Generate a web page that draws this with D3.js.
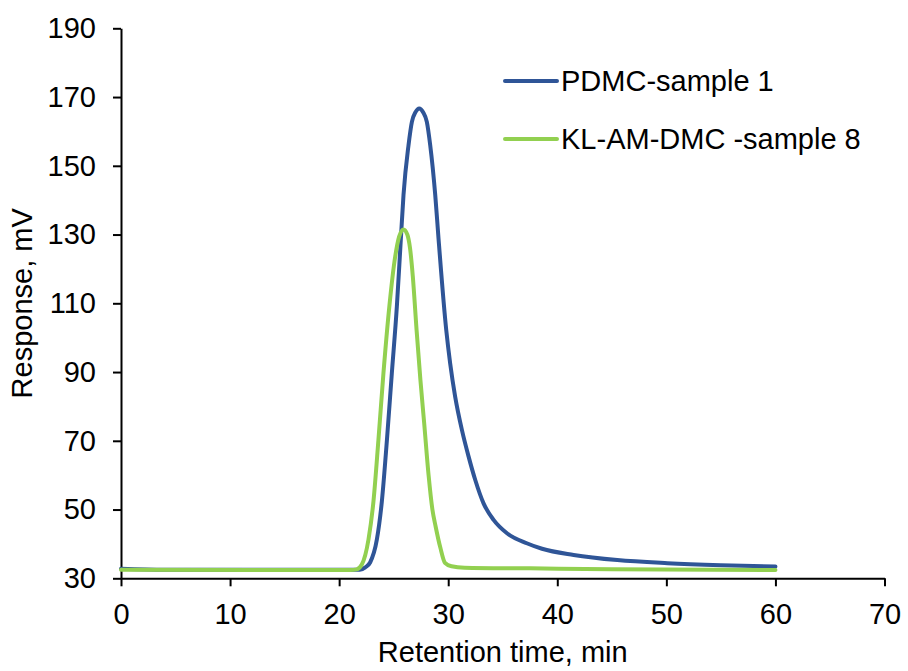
<!DOCTYPE html>
<html>
<head>
<meta charset="utf-8">
<script src="https://cdn.jsdelivr.net/npm/d3@7"></script>
<style>
  body { margin: 0; background: #fff; }
  svg text { font-family: "Liberation Sans", Arial, sans-serif; fill: #000; }
</style>
</head>
<body>
<svg id="chart" width="908" height="671"></svg>
<script>
// axis ticks
const xTicks = [0, 10, 20, 30, 40, 50, 60, 70];
const yTicks = [30, 50, 70, 90, 110, 130, 150, 170, 190];

// PDMC-sample 1
const pdmcTime = [0, 4, 21.5, 21.9, 22.4, 22.84, 23.46, 23.92, 24.38, 24.83, 25.29, 25.66, 25.9, 26.36, 26.67, 27.0, 27.34, 27.7, 28.04, 28.35, 28.81, 29.11, 29.82, 30.18, 30.64, 31.26, 31.87, 32.48, 33.24, 34.16, 35.39, 37.2, 38.6, 41.5, 45.5, 50.1, 55, 60];
const pdmcValue = [32.8, 32.5, 32.5, 32.5, 33.2, 34.6, 41.3, 52.5, 70.2, 89.6, 109, 128.9, 141.5, 156, 162.8, 165.6, 166.7, 165.6, 162.8, 156, 141.5, 128.9, 102.2, 92.5, 82.8, 73.1, 65.4, 58.6, 51.8, 47.0, 43.1, 40.2, 38.6, 36.8, 35.3, 34.4, 33.8, 33.4];

// KL-AM-DMC -sample 8
const klTime = [0, 21.0, 21.6, 22.08, 22.69, 23.15, 23.6, 24.06, 24.6, 25.14, 25.5, 25.9, 26.25, 26.5, 26.75, 27.1, 27.45, 27.8, 28.2, 28.55, 28.85, 29.27, 29.7, 30.3, 31.5, 37.5, 45, 60];
const klValue = [32.5, 32.4, 32.6, 34.0, 41.3, 52.5, 70.2, 89.6, 109, 123.6, 129.4, 131.5, 130, 126, 118, 102.2, 87.7, 75, 60, 50, 45, 39, 34.5, 33.5, 33.1, 32.9, 32.6, 32.4];

const seriesNames = ["PDMC-sample 1", "KL-AM-DMC -sample 8"];
const seriesColors = ["#2F5597", "#92D050"];

const svg = d3.select("#chart");
const x = d3.scaleLinear().domain([0, 70]).range([121, 884.5]);
const y = d3.scaleLinear().domain([30, 190]).range([578.3, 28.3]);

// axes
const xAxis = svg.append("g")
    .attr("transform", `translate(0,${y(30)})`)
    .call(d3.axisBottom(x).tickValues(xTicks).tickSize(8).tickPadding(17).tickSizeOuter(0));
const yAxis = svg.append("g")
    .attr("transform", `translate(${x(0)},0)`)
    .call(d3.axisLeft(y).tickValues(yTicks).tickSize(8).tickPadding(17).tickSizeOuter(0));
[xAxis, yAxis].forEach(g => {
    g.selectAll("path, line").attr("stroke", "#000").attr("stroke-width", 2);
    g.selectAll("text").attr("font-size", 29).attr("font-family", "Liberation Sans, Arial, sans-serif");
});

// lines
const line = d3.line()
    .x(d => x(d[0]))
    .y(d => y(d[1]))
    .curve(d3.curveMonotoneX);

const series = [
    d3.zip(pdmcTime, pdmcValue),
    d3.zip(klTime, klValue)
];
series.forEach((pts, i) => {
    svg.append("path")
        .datum(pts)
        .attr("fill", "none")
        .attr("stroke", seriesColors[i])
        .attr("stroke-width", 4)
        .attr("stroke-linejoin", "round")
        .attr("stroke-linecap", "round")
        .attr("d", line);
});

// legend
const legend = svg.append("g");
seriesNames.forEach((name, i) => {
    const ly = 81 + i * 58;
    legend.append("line")
        .attr("x1", 505).attr("x2", 557)
        .attr("y1", ly).attr("y2", ly)
        .attr("stroke", seriesColors[i])
        .attr("stroke-width", 4)
        .attr("stroke-linecap", "round");
    legend.append("text")
        .attr("x", 561).attr("y", ly + 9.5)
        .attr("font-size", 29)
        .text(name);
});

// axis titles
svg.append("text")
    .attr("x", (x(0) + x(70)) / 2)
    .attr("y", 662)
    .attr("text-anchor", "middle")
    .attr("font-size", 29)
    .text("Retention time, min");

svg.append("text")
    .attr("transform", `translate(32,${(y(30) + y(190)) / 2}) rotate(-90)`)
    .attr("text-anchor", "middle")
    .attr("font-size", 29)
    .text("Response, mV");
</script>
</body>
</html>
